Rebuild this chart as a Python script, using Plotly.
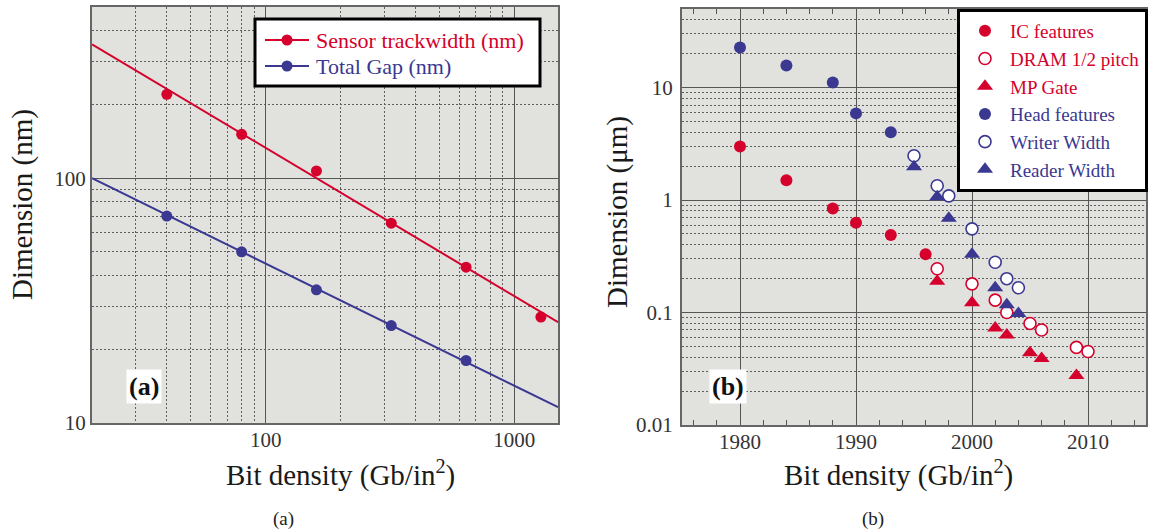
import math
import plotly.graph_objects as go

W, H = 1149, 532
RED = "#d5002c"
BLUE = "#3a3891"
BG = "#e1e1dd"
GRID = "#555555"
MINOR = "#5f5f5f"
FONT = "Liberation Serif, Times New Roman, serif"

# ---------------- Panel (a) data ----------------
sensor_x = [40, 80, 160, 320, 640, 1280]
sensor_nm = [220, 151, 107, 65.5, 43.3, 27.1]
gap_x = [20, 40, 80, 160, 320, 640]
gap_nm = [100, 70, 50, 35, 25, 18]
fit_x = [20, 1500]
sensor_fit = [352, 25.8]
gap_fit = [100, 11.6]
a_legend = ["Sensor trackwidth (nm)", "Total Gap (nm)"]

# ---------------- Panel (b) data ----------------
ic_year = [1980, 1984, 1988, 1990, 1993, 1996]
ic_um = [3.0, 1.5, 0.84, 0.63, 0.49, 0.33]
dram_year = [1997, 2000, 2002, 2003, 2005, 2006, 2009, 2010]
dram_um = [0.245, 0.18, 0.129, 0.10, 0.080, 0.070, 0.049, 0.045]
mp_year = [1997, 2000, 2002, 2003, 2005, 2006, 2009]
mp_um = [0.19, 0.122, 0.073, 0.063, 0.044, 0.039, 0.0276]
head_year = [1980, 1984, 1988, 1990, 1993]
head_um = [22.7, 15.7, 11.1, 5.9, 4.0]
writer_year = [1995, 1997, 1998, 2000, 2002, 2003, 2004]
writer_um = [2.48, 1.34, 1.09, 0.555, 0.28, 0.20, 0.166]
reader_year = [1995, 1997, 1998, 2000, 2002, 2003, 2004]
reader_um = [1.98, 1.07, 0.69, 0.33, 0.166, 0.117, 0.098]

# axis ticks
a_x_ticks = [100, 1000]
a_x_minor = [30, 40, 50, 60, 70, 80, 90, 200, 300, 400, 500, 600, 700, 800, 900]
a_y_ticks = [10, 100]
a_y_minor = [20, 30, 40, 50, 60, 70, 80, 90, 200, 300, 400]
b_x_ticks = [1980, 1990, 2000, 2010]
b_y_ticks = [0.01, 0.1, 1, 10]
b_y_labels = ["0.01", "0.1", "1", "10"]
b_y_minor = [0.02, 0.03, 0.04, 0.05, 0.06, 0.07, 0.08, 0.09,
             0.2, 0.3, 0.4, 0.5, 0.6, 0.7, 0.8, 0.9,
             2, 3, 4, 5, 6, 7, 8, 9, 20, 30, 40]


def px(x):
    return x / W


def py(y):
    return 1 - y / H


def colored(txt, c):
    return f"<span style='color:{c}'>{txt}</span>"


fig = go.Figure()

# ---- panel (a) ----
fig.add_trace(go.Scatter(x=fit_x, y=sensor_fit, mode="lines", line=dict(color=RED, width=2),
                         showlegend=False, xaxis="x", yaxis="y"))
fig.add_trace(go.Scatter(x=fit_x, y=gap_fit, mode="lines", line=dict(color=BLUE, width=2),
                         showlegend=False, xaxis="x", yaxis="y"))
fig.add_trace(go.Scatter(x=sensor_x, y=sensor_nm, mode="markers", marker=dict(color=RED, size=11),
                         name=a_legend[0], showlegend=False, cliponaxis=False, xaxis="x", yaxis="y"))
fig.add_trace(go.Scatter(x=gap_x, y=gap_nm, mode="markers", marker=dict(color=BLUE, size=11),
                         name=a_legend[1], showlegend=False, cliponaxis=False, xaxis="x", yaxis="y"))

# ---- panel (b) ----
b_series = [
    ("IC features", ic_year, ic_um, dict(symbol="circle", color=RED, size=12)),
    ("DRAM 1/2 pitch", dram_year, dram_um, dict(symbol="circle", color="white", size=12,
                                                line=dict(color=RED, width=1.6))),
    ("MP Gate", mp_year, mp_um, dict(symbol="triangle-up", color=RED, size=14)),
    ("Head features", head_year, head_um, dict(symbol="circle", color=BLUE, size=12)),
    ("Writer Width", writer_year, writer_um, dict(symbol="circle", color="white", size=12,
                                                  line=dict(color=BLUE, width=1.6))),
    ("Reader Width", reader_year, reader_um, dict(symbol="triangle-up", color=BLUE, size=14)),
]
for name, xs, ys, mk in b_series:
    c = RED if name in ("IC features", "DRAM 1/2 pitch", "MP Gate") else BLUE
    fig.add_trace(go.Scatter(x=xs, y=ys, mode="markers", marker=mk, name=colored(name, c),
                             legend="legend2", cliponaxis=False, xaxis="x2", yaxis="y2"))

tickfont = dict(family=FONT, size=21, color="#333333")
common = dict(showline=True, linecolor="#666666", linewidth=2, mirror=True, zeroline=False,
              tickfont=tickfont, showgrid=True, gridcolor=GRID, gridwidth=1, automargin=False)
DOT = "2px,2px"

fig.update_layout(
    width=W, height=H, autosize=False,
    margin=dict(l=0, r=0, t=0, b=0, pad=0, autoexpand=False),
    paper_bgcolor="white", plot_bgcolor=BG,
    font=dict(family=FONT, color="#222222"),
    xaxis=dict(type="log", domain=[px(92), px(558)], range=[math.log10(20), math.log10(1500)],
               anchor="y", tickmode="array", tickvals=a_x_ticks, ticktext=[str(v) for v in a_x_ticks],
               ticks="", ticklabelstandoff=-3,
               minor=dict(tickmode="array", tickvals=a_x_minor, showgrid=True, griddash=DOT,
                          gridcolor=MINOR, gridwidth=1, ticks=""),
               **common),
    yaxis=dict(type="log", domain=[py(423), py(7)], range=[1, math.log10(500)],
               anchor="x", tickmode="array", tickvals=a_y_ticks, ticktext=[str(v) for v in a_y_ticks],
               ticks="", ticklabelstandoff=0,
               minor=dict(tickmode="array", tickvals=a_y_minor, showgrid=True, griddash=DOT,
                          gridcolor=MINOR, gridwidth=1, ticks=""),
               **common),
    xaxis2=dict(domain=[px(682), px(1146)], range=[1975, 2015], anchor="y2",
                tickmode="array", tickvals=b_x_ticks, ticktext=[str(v) for v in b_x_ticks],
                ticks="inside", ticklen=6, tickcolor="#555555", ticklabelstandoff=-3,
                minor=dict(dtick=2, tick0=1976, ticks="inside", ticklen=5, tickcolor="#555555",
                           showgrid=False),
                **{**common, "mirror": "ticks"}),
    yaxis2=dict(type="log", domain=[py(425), py(9)], range=[-2, math.log10(50)], anchor="x2",
                tickmode="array", tickvals=b_y_ticks, ticktext=b_y_labels,
                ticks="", ticklabelstandoff=3,
                minor=dict(tickmode="array", tickvals=b_y_minor, showgrid=True, griddash=DOT,
                           gridcolor=MINOR, gridwidth=1, ticks=""),
                **common),
    legend2=dict(x=px(957), y=py(9), xanchor="left", yanchor="top", bgcolor="white",
                 bordercolor="black", borderwidth=3, font=dict(family=FONT, size=19),
                 itemwidth=40, tracegroupgap=0),
)

# ---- panel (a) legend box (drawn as layout decoration) ----
shapes = [dict(type="rect", xref="paper", yref="paper", x0=px(255), x1=px(540), y0=py(86), y1=py(19),
               line=dict(color="black", width=3), fillcolor="white", layer="above")]
ann = []
for i, (lab, c) in enumerate(zip(a_legend, (RED, BLUE))):
    yy = 40 + 26 * i
    shapes.append(dict(type="line", xref="paper", yref="paper", x0=px(265), x1=px(309), y0=py(yy), y1=py(yy),
                       line=dict(color=c, width=2), layer="above"))
    shapes.append(dict(type="circle", xref="paper", yref="paper", xsizemode="pixel", ysizemode="pixel",
                       xanchor=px(287), yanchor=py(yy), x0=-5.5, x1=5.5, y0=-5.5, y1=5.5,
                       fillcolor=c, line=dict(width=0), layer="above"))
    ann.append(dict(text=lab, x=px(314), y=py(yy), xref="paper", yref="paper", showarrow=False,
                    xanchor="left", yanchor="middle", font=dict(family=FONT, size=22, color=c)))

# axis titles
for cx in (340, 898):
    ann.append(dict(text="Bit density (Gb/in<sup>2</sup>)", x=px(cx), y=py(473), xref="paper", yref="paper",
                    showarrow=False, xanchor="center", yanchor="middle",
                    font=dict(family=FONT, size=29, color="#1a1a1a")))
ann.append(dict(text="Dimension (nm)", x=px(22), y=py(205), xref="paper", yref="paper", textangle=-90,
                showarrow=False, xanchor="center", yanchor="middle",
                font=dict(family=FONT, size=29, color="#1a1a1a")))
ann.append(dict(text="Dimension (μm)", x=px(617), y=py(212), xref="paper", yref="paper", textangle=-90,
                showarrow=False, xanchor="center", yanchor="middle",
                font=dict(family=FONT, size=29, color="#1a1a1a")))
# panel labels
for lab, cx in (("(a)", 144), ("(b)", 728)):
    ann.append(dict(text=f"<b>{lab}</b>", x=px(cx), y=py(386), xref="paper", yref="paper",
                    showarrow=False, xanchor="center", yanchor="middle", bgcolor="white", borderpad=2,
                    font=dict(family=FONT, size=26, color="#111111")))
# captions
for lab, cx in (("(a)", 283), ("(b)", 873)):
    ann.append(dict(text=lab, x=px(cx), y=py(519), xref="paper", yref="paper",
                    showarrow=False, xanchor="center", yanchor="middle",
                    font=dict(family=FONT, size=19, color="#222222")))
fig.update_layout(annotations=ann, shapes=shapes)

fig.write_html(
    "out.html",
    config={"displayModeBar": False},
    post_script=("document.documentElement.style.margin='0';document.documentElement.style.overflow='hidden';"
                 "document.body.style.margin='0';document.body.style.overflow='hidden';"),
)
